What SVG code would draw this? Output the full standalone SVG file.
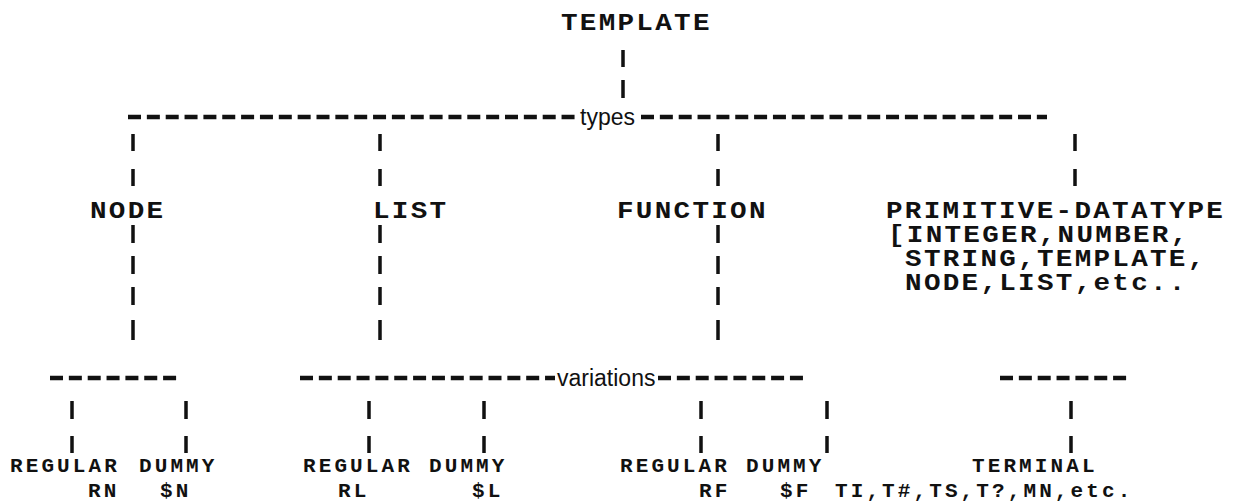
<svg xmlns="http://www.w3.org/2000/svg" width="1240" height="504" viewBox="0 0 1240 504">
<style>
.t{font-family:"Liberation Mono","DejaVu Sans Mono",monospace;font-size:23px;font-weight:bold;letter-spacing:1.91px;fill:#111;transform:scale(1.2,1);transform-box:view-box;transform-origin:0 0}
.b{font-family:"Liberation Mono","DejaVu Sans Mono",monospace;font-size:21px;font-weight:bold;letter-spacing:3.1px;fill:#111}
.l{font-family:"Liberation Sans","DejaVu Sans",sans-serif;font-size:23px;fill:#111}
.h{stroke:#111;stroke-width:4.5;stroke-dasharray:13 5.85;fill:none}
.v{stroke:#111;stroke-width:3.5;fill:none}
</style>
<rect width="1240" height="504" fill="#fff"/>
<g id="connectors">
  <path class="v" d="M623 50V67M623 80V98"/>
  <line class="h" x1="128" y1="117" x2="577" y2="117"/>
  <text class="l" x="580" y="125">types</text>
  <line class="h" x1="641" y1="117" x2="1047" y2="117"/>
  <path class="v" d="M133 134V151M133 169V186M380 134V151M380 169V186M718 134V151M718 169V186M1075 134V151M1075 169V186"/>
  <path class="v" d="M133 225V243M133 256V274M133 287V305M133 320V340M380 225V243M380 256V274M380 287V305M380 320V340M718 225V243M718 256V274M718 287V305M718 320V340"/>
  <line class="h" x1="50" y1="378" x2="177" y2="378"/>
  <line class="h" x1="300" y1="378" x2="555" y2="378"/>
  <text class="l" x="557" y="386">variations</text>
  <line class="h" x1="658" y1="378" x2="808" y2="378"/>
  <line class="h" x1="1000" y1="378" x2="1130" y2="378"/>
  <path class="v" d="M72 401V419M72 436V453M186 401V419M186 436V453M369 401V419M369 436V453M484 401V419M484 436V453M701 401V419M701 436V453M827 401V419M827 436V453M1071 401V419M1071 436V453"/>
</g>
<g id="n-template"><text class="t" x="467.5" y="30">TEMPLATE</text></g>
<g id="n-node"><text class="t" x="75" y="218">NODE</text></g>
<g id="n-list"><text class="t" x="310.8" y="218">LIST</text></g>
<g id="n-function"><text class="t" x="514.2" y="218">FUNCTION</text></g>
<g id="n-primitive">
  <text class="t" x="738.3" y="218">PRIMITIVE-DATATYPE</text>
  <text class="t" x="740" y="242">[INTEGER,NUMBER,</text>
  <text class="t" x="754.2" y="266">STRING,TEMPLATE,</text>
  <text class="t" x="754.2" y="290">NODE,LIST,etc..</text>
</g>
<g id="n-node-regular"><text class="b" x="10" y="472">REGULAR</text><text class="b" x="88" y="497">RN</text></g>
<g id="n-node-dummy"><text class="b" x="139" y="472">DUMMY</text><text class="b" x="160" y="497">$N</text></g>
<g id="n-list-regular"><text class="b" x="303" y="472">REGULAR</text><text class="b" x="338" y="497">RL</text></g>
<g id="n-list-dummy"><text class="b" x="429" y="472">DUMMY</text><text class="b" x="472" y="497">$L</text></g>
<g id="n-function-regular"><text class="b" x="620" y="472">REGULAR</text><text class="b" x="699" y="497">RF</text></g>
<g id="n-function-dummy"><text class="b" x="746" y="472">DUMMY</text><text class="b" x="780" y="497">$F</text></g>
<g id="n-terminal"><text class="b" x="972" y="472">TERMINAL</text><text class="b" x="835" y="497">TI,T#,TS,T?,MN,etc.</text></g>
</svg>
